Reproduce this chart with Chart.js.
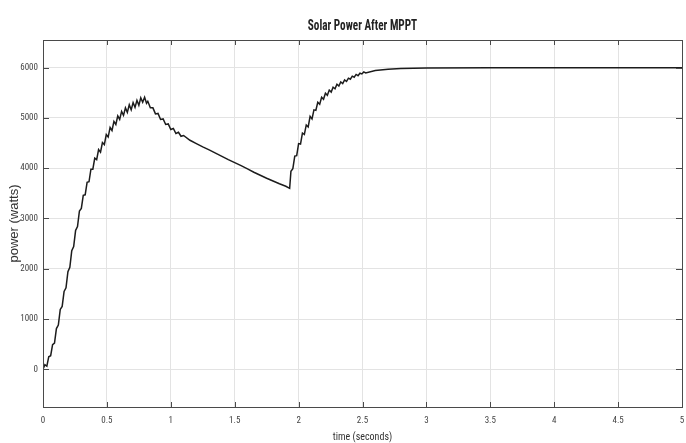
<!DOCTYPE html>
<html>
<head>
<meta charset="utf-8">
<script src="https://cdn.jsdelivr.net/npm/chart.js@4"></script>
<style>
  html, body { margin: 0; padding: 0; background: #fff; }
  canvas { display: block; }
</style>
</head>
<body>
<canvas id="chart" width="686" height="443"></canvas>
<script>
// power after MPPT (seconds / watts)
const time = [
  0, 0.015, 0.03, 0.045, 0.06, 0.075, 0.09, 0.105, 0.12, 0.135,
  0.15, 0.165, 0.18, 0.195, 0.21, 0.225, 0.24, 0.255, 0.27, 0.285,
  0.3, 0.315, 0.33, 0.345, 0.36, 0.375, 0.39, 0.405, 0.42, 0.435,
  0.45, 0.465, 0.48, 0.495, 0.51, 0.525, 0.54, 0.555, 0.57, 0.585,
  0.6, 0.615, 0.63, 0.645, 0.66, 0.675, 0.69, 0.705, 0.72, 0.735,
  0.75, 0.765, 0.78, 0.795,
  0.81, 0.82, 0.84, 0.86, 0.88, 0.9, 0.92, 0.94, 0.96, 0.98,
  1.0, 1.02, 1.04, 1.06, 1.08, 1.1, 1.15, 1.2, 1.25, 1.3,
  1.35, 1.4, 1.45, 1.5, 1.55, 1.6, 1.65, 1.7, 1.75, 1.8,
  1.85, 1.9, 1.93,
  1.94, 1.955, 1.97, 1.985, 2.0, 2.015, 2.03, 2.045, 2.06, 2.075,
  2.09, 2.105, 2.12, 2.135, 2.15, 2.165, 2.18, 2.195, 2.21, 2.225,
  2.24, 2.255, 2.27, 2.285, 2.3, 2.315, 2.33, 2.345, 2.36, 2.375,
  2.39, 2.405, 2.42, 2.435, 2.45, 2.465, 2.48, 2.495, 2.51, 2.525,
  2.6, 2.7, 2.8, 2.9, 3.0, 3.5, 4.0, 4.5, 5.0
];
const power = [
  0, 90, 60, 250, 270, 490, 520, 810, 880, 1190,
  1250, 1550, 1620, 1940, 2030, 2360, 2440, 2760, 2840, 3150,
  3200, 3460, 3470, 3720, 3730, 3980, 3980, 4200, 4170, 4370,
  4320, 4510, 4470, 4670, 4620, 4810, 4750, 4930, 4870, 5040,
  4970, 5130, 5050, 5200, 5110, 5260, 5160, 5305, 5210, 5350,
  5250, 5400, 5310, 5410,
  5290, 5330, 5200, 5200, 5080, 5090, 4970, 4980, 4870, 4880,
  4770, 4790, 4690, 4715, 4635, 4650, 4556, 4490, 4425, 4365,
  4300, 4235, 4170, 4110, 4050, 3985, 3920, 3860, 3800, 3745,
  3690, 3640, 3600,
  3940, 3990, 4240, 4250, 4490, 4480, 4700, 4670, 4860, 4820,
  5030, 4980, 5160, 5150, 5310, 5270, 5410, 5370, 5490, 5450,
  5555, 5515, 5610, 5580, 5670, 5635, 5715, 5685, 5755, 5725,
  5790, 5770, 5830, 5810, 5865, 5840, 5890, 5875, 5915, 5895,
  5945, 5968, 5982, 5990, 5994, 5998, 5999, 5999, 5999
];
const xTicks = [0, 0.5, 1, 1.5, 2, 2.5, 3, 3.5, 4, 4.5, 5];
const yTicks = [0, 1000, 2000, 3000, 4000, 5000, 6000];

const narrow = '"Roboto Condensed", "Open Sans Condensed", sans-serif';

// matlab-ish frame: box round the axes, inward tick marks, title over the plot
const framePlugin = {
    id: 'frame',
    afterDatasetsDraw(chart) {
        const { ctx, chartArea: a, scales } = chart;
        ctx.save();
        ctx.strokeStyle = '#4a4a4a';
        ctx.lineWidth = 1;
        ctx.beginPath();
        xTicks.forEach(v => {
            const x = Math.round(scales.x.getPixelForValue(v)) + 0.5;
            ctx.moveTo(x, a.bottom); ctx.lineTo(x, a.bottom - 5);
            ctx.moveTo(x, a.top); ctx.lineTo(x, a.top + 5);
        });
        yTicks.forEach(v => {
            const y = Math.round(scales.y.getPixelForValue(v)) + 0.5;
            ctx.moveTo(a.left, y); ctx.lineTo(a.left + 6, y);
            ctx.moveTo(a.right, y); ctx.lineTo(a.right - 6, y);
        });
        ctx.stroke();
        ctx.strokeRect(Math.round(a.left) + 0.5, Math.round(a.top) + 0.5,
            Math.round(a.right - a.left), Math.round(a.bottom - a.top));
        // title, squeezed a bit like the narrow matlab font
        ctx.fillStyle = '#222';
        ctx.font = 'bold 14px ' + narrow;
        ctx.textAlign = 'center';
        ctx.textBaseline = 'middle';
        ctx.translate((a.left + a.right) / 2, 26);
        ctx.scale(0.8, 1);
        ctx.fillText('Solar Power After MPPT', 0, 0);
        ctx.restore();
    }
};

new Chart(document.getElementById('chart'), {
    type: 'line',
    data: {
        datasets: [{
            data: time.map((t, i) => ({ x: t, y: power[i] })),
            borderColor: '#1c1c1c',
            borderWidth: 1.5,
            pointRadius: 0,
            tension: 0
        }]
    },
    options: {
        responsive: false,
        animation: false,
        layout: { padding: { top: 40, right: 4, left: 0, bottom: 0 } },
        plugins: {
            legend: { display: false },
            tooltip: { enabled: false },
            title: { display: false }
        },
        scales: {
            x: {
                type: 'linear',
                min: 0,
                max: 5,
                afterBuildTicks: s => { s.ticks = xTicks.map(v => ({ value: v })); },
                afterFit: s => { s.height = 36; s.paddingLeft = 0; s.paddingRight = 0; },
                ticks: {
                    callback: v => String(v),
                    color: '#444',
                    font: { family: narrow, size: 9 },
                    padding: 8,
                    maxRotation: 0
                },
                grid: { color: '#e3e3e3', drawTicks: false },
                border: { display: false },
                title: {
                    display: true,
                    text: 'time (seconds)',
                    color: '#333',
                    font: { family: narrow, size: 10 },
                    padding: { top: 0, bottom: 0 }
                }
            },
            y: {
                type: 'linear',
                min: -750,
                max: 6550,
                afterBuildTicks: s => { s.ticks = yTicks.map(v => ({ value: v })); },
                afterFit: s => { s.width = 43; s.paddingTop = 0; s.paddingBottom = 0; },
                ticks: {
                    callback: v => String(v),
                    color: '#444',
                    font: { family: narrow, size: 9 },
                    padding: 5
                },
                grid: { color: '#e3e3e3', drawTicks: false },
                border: { display: false },
                title: {
                    display: true,
                    text: 'power (watts)',
                    color: '#333',
                    font: { family: '"Liberation Sans", Arial, sans-serif', size: 13 },
                    padding: { top: 7, bottom: 0 }
                }
            }
        }
    },
    plugins: [framePlugin]
});
</script>
</body>
</html>
